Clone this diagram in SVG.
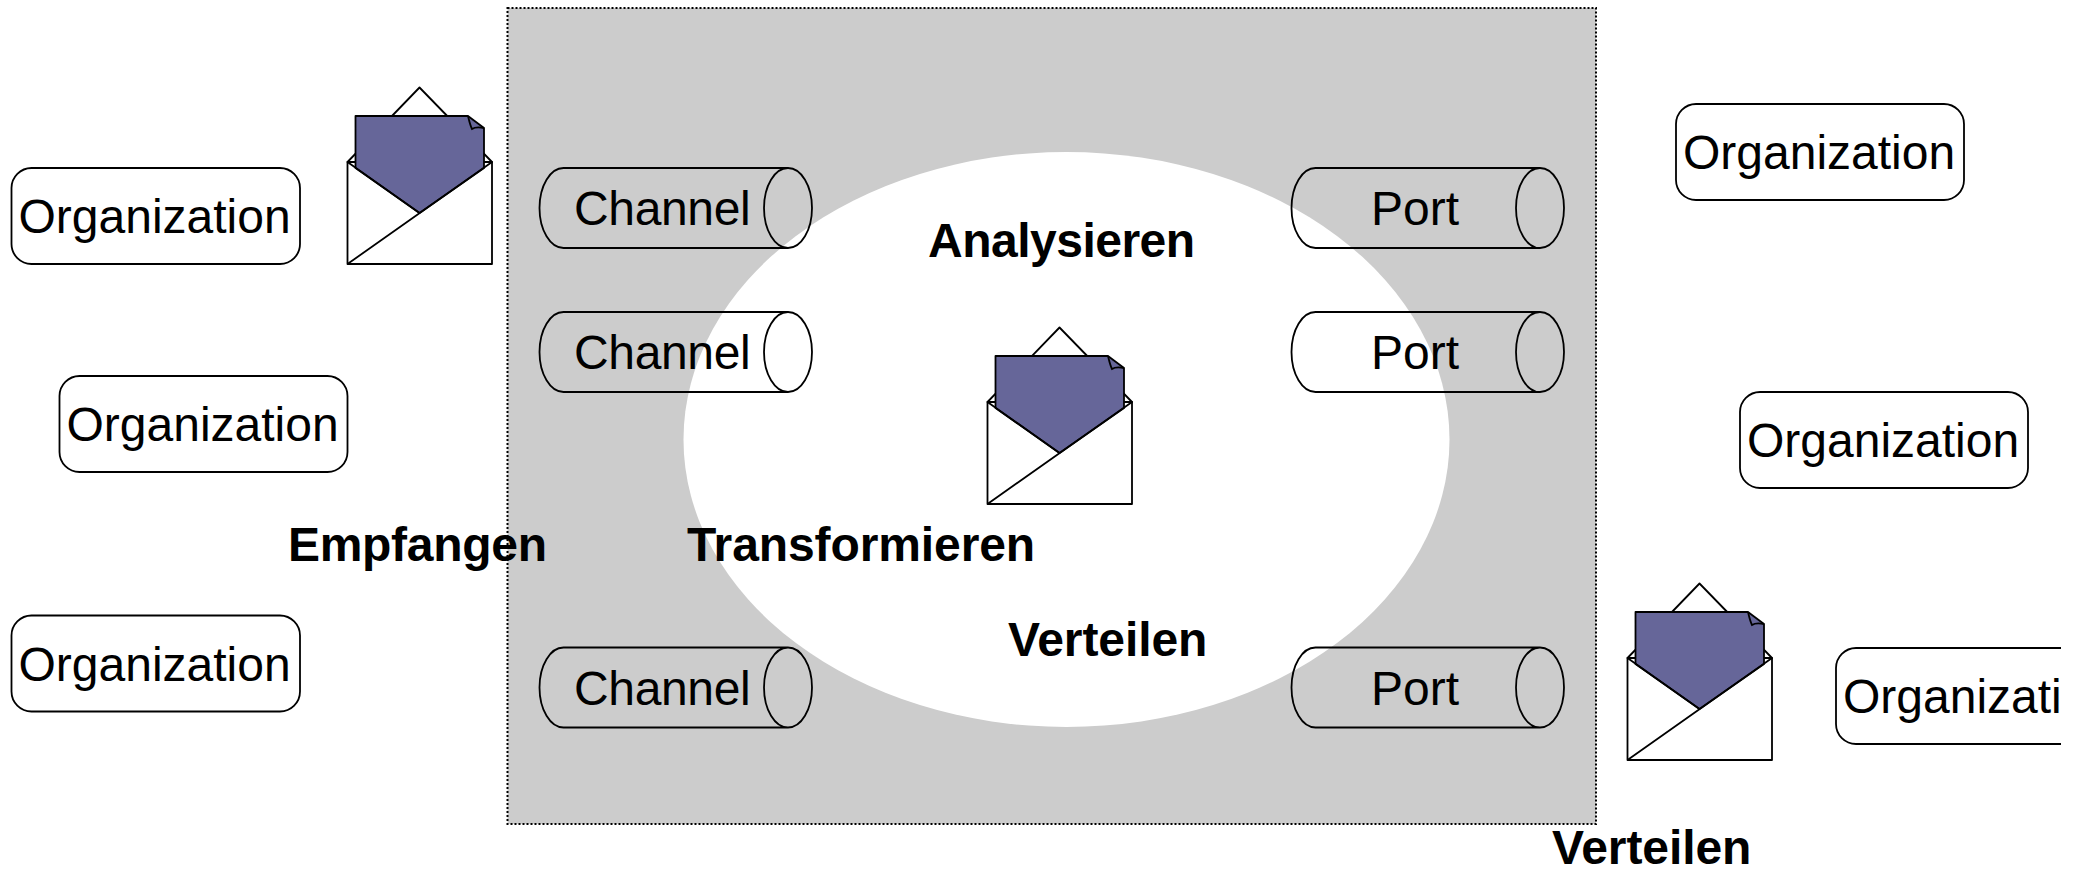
<svg xmlns="http://www.w3.org/2000/svg" xmlns:xlink="http://www.w3.org/1999/xlink" width="2082" height="869" viewBox="0 0 2082 869">
<style>
text{font-family:"Liberation Sans",Arial,sans-serif;font-size:48px;fill:#000}
.b{font-weight:bold}
.ch{letter-spacing:-0.350px}
.o{fill:#fff;stroke:#000;stroke-width:1.800}
.c{fill:none;stroke:#000;stroke-width:1.800}
.e{fill:#fff;stroke:#000;stroke-width:1.800;stroke-linejoin:round}
.l{fill:#666699;stroke:#000;stroke-width:1.800;stroke-linejoin:round}
.ln{fill:none;stroke:#000;stroke-width:1.800}
</style>
<defs>
<clipPath id="page"><rect x="0" y="0" width="2061" height="869"/></clipPath>
<g id="env">
<path class="e" d="M347.500 162L419.500 87.500L492 162Z"/>
<rect class="e" x="347.500" y="162" width="144.500" height="102"/>
<path class="l" d="M355.500 168V116H468L484 128V168L419.500 213Z"/>
<path class="ln" d="M347.500 162L419.500 213M492 162L347.500 264"/>
<path class="ln" d="M468 116C469 120 470 125 472 129C475 127 479 127 484 128"/>
</g>
<path id="cyl" class="c" d="M563.500 168H788A24 40 0 0 1 788 248H563.500A24 40 0 0 1 563.500 168ZM788 168A24 40 0 0 0 788 248"/>
</defs>
<g clip-path="url(#page)">
<rect id="area" x="507.500" y="8" width="1088.500" height="816" fill="#cccccc"/>
<ellipse id="core" cx="1066.500" cy="439.500" rx="383" ry="287.500" fill="#fff"/>
<g id="connectors"/>
<g id="labels">
<text class="b" x="928" y="257" style="letter-spacing:-0.500px">Analysieren</text>
<text class="b" x="288" y="560.500" style="letter-spacing:-0.300px">Empfangen</text>
<text class="b" x="687" y="560.500" style="letter-spacing:-0.100px">Transformieren</text>
<text class="b" x="1008" y="656" style="letter-spacing:-0.100px">Verteilen</text>
<text class="b" x="1552" y="864" style="letter-spacing:-0.100px">Verteilen</text>
</g>
<rect id="area-border" x="507.500" y="8" width="1088.500" height="816" fill="none" stroke="#000" stroke-width="2" stroke-dasharray="2 2"/>
<g id="org1"><rect class="o" x="11.500" y="168" width="288.500" height="96" rx="20"/><text x="18.500" y="233">Organization</text></g>
<g id="org2"><rect class="o" x="59.500" y="376" width="288" height="96" rx="20"/><text x="66.500" y="441">Organization</text></g>
<g id="org3"><rect class="o" x="11.500" y="615.500" width="288.500" height="96" rx="20"/><text x="18.500" y="680.500">Organization</text></g>
<g id="org4"><rect class="o" x="1676" y="104" width="288" height="96" rx="20"/><text x="1683" y="169">Organization</text></g>
<g id="org5"><rect class="o" x="1740" y="392" width="288" height="96" rx="20"/><text x="1747" y="457">Organization</text></g>
<g id="org6"><rect class="o" x="1836" y="648" width="288" height="96" rx="20"/><text x="1843" y="712.500">Organization</text></g>
<g id="channel1"><use xlink:href="#cyl" href="#cyl"/><text class="ch" x="574" y="225">Channel</text></g>
<g id="channel2"><use xlink:href="#cyl" href="#cyl" y="144"/><text class="ch" x="574" y="369">Channel</text></g>
<g id="channel3"><use xlink:href="#cyl" href="#cyl" y="479.500"/><text class="ch" x="574" y="704.500">Channel</text></g>
<g id="port1"><use xlink:href="#cyl" href="#cyl" x="752"/><text x="1371" y="225">Port</text></g>
<g id="port2"><use xlink:href="#cyl" href="#cyl" x="752" y="144"/><text x="1371" y="369">Port</text></g>
<g id="port3"><use xlink:href="#cyl" href="#cyl" x="752" y="479.500"/><text x="1371" y="704.500">Port</text></g>
<g id="message1"><use xlink:href="#env" href="#env"/></g>
<g id="message2"><use xlink:href="#env" href="#env" x="640" y="240"/></g>
<g id="message3"><use xlink:href="#env" href="#env" x="1280" y="496"/></g>
</g>
</svg>
